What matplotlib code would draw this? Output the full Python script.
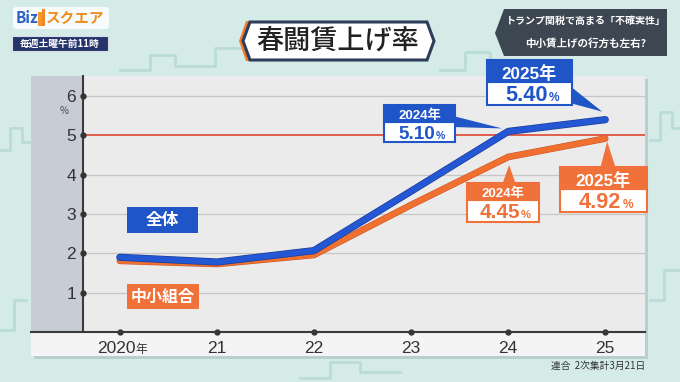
import matplotlib
matplotlib.use("Agg")
import matplotlib.pyplot as plt
import matplotlib.patheffects as pe
from matplotlib.patches import Rectangle, Polygon, FancyBboxPatch

plt.rcParams["font.family"] = ["Noto Sans CJK JP", "DejaVu Sans"]

# data (Rengo spring wage hike rate, %)
years = [2020, 2021, 2022, 2023, 2024, 2025]
year_labels = ["2020", "21", "22", "23", "24", "25"]
overall = [1.90, 1.78, 2.07, 3.58, 5.10, 5.40]
small_unions = [1.81, 1.73, 1.96, 3.23, 4.45, 4.92]
yticks = [1, 2, 3, 4, 5, 6]

W, H = 680, 382
BLUE = "#2457d3"
ORANGE = "#f0712f"
BOX_BLUE = "#1f55c6"
BOX_ORANGE = "#f0723a"
NUMFONT = ["Liberation Sans", "Noto Sans CJK JP", "DejaVu Sans"]

fig = plt.figure(figsize=(W / 100, H / 100), dpi=100)
fig.patch.set_facecolor("#d5ebe8")

# pixel-space layers behind and in front of the chart
bg = fig.add_axes([0, 0, 1, 1], zorder=0)
fg = fig.add_axes([0, 0, 1, 1], zorder=3)
for o in (bg, fg):
    o.set_xlim(0, W)
    o.set_ylim(H, 0)
    o.axis("off")
    o.patch.set_alpha(0)

# faint building outlines in the backdrop
deco = "#b9dcd7"
bg.plot([0, 10, 10, 22, 22, 30], [150, 150, 128, 128, 142, 142], color=deco, lw=2)
bg.plot([0, 14, 14, 26], [330, 330, 300, 300], color=deco, lw=2)
bg.plot([120, 150, 150, 175, 175, 215, 215, 240], [70, 70, 55, 55, 66, 66, 48, 48],
        color=deco, lw=2)
bg.plot([440, 465, 465, 490, 490], [70, 70, 52, 52, 66], color=deco, lw=2)
bg.plot([650, 660, 660, 672, 672, 680], [140, 140, 112, 112, 128, 128], color=deco, lw=2)
bg.plot([650, 664, 664, 680], [300, 300, 270, 270], color=deco, lw=2)
bg.plot([300, 330, 330, 360, 360, 400], [378, 378, 362, 362, 372, 372], color=deco, lw=2)

# chart panel
bg.add_patch(Rectangle((34, 79), 614, 280, fc="#b9cfcc", ec="none"))
bg.add_patch(Rectangle((31, 76), 614, 280, fc="#f4f4f4", ec="none"))
bg.add_patch(Rectangle((31, 76), 52, 256, fc="#c8ccd7", ec="none"))

ax = fig.add_axes([83 / W, 1 - 332 / H, (645 - 83) / W, (332 - 76) / H], zorder=1)
ax.set_facecolor("#ebebeb")
ax.set_xlim(2019.62, 2025.41)
ax.set_ylim(0, 6.51)
for t in yticks:
    if t == 5:
        ax.axhline(t, color="#e0523e", lw=1.3, zorder=1)
    else:
        ax.axhline(t, color="#c6c6c6", lw=0.9, zorder=1)

ax.plot(years, small_unions, color=ORANGE, lw=4.0, solid_capstyle="round",
        solid_joinstyle="round", zorder=3,
        path_effects=[pe.Stroke(linewidth=4.8, foreground="#c9552a"), pe.Normal()])
ax.plot(years, overall, color=BLUE, lw=4.2, solid_capstyle="round",
        solid_joinstyle="round", zorder=4,
        path_effects=[pe.Stroke(linewidth=5.2, foreground="#1a3c98"), pe.Normal()])

for s in ("top", "right", "bottom"):
    ax.spines[s].set_visible(False)
ax.spines["left"].set_color("#3a3a3a")
ax.spines["left"].set_linewidth(1.5)

ax.set_yticks(yticks)
ax.set_yticklabels([str(t) for t in yticks], fontsize=12.5, color="#333333",
                   family=NUMFONT)
ax.tick_params(axis="y", length=0, pad=5)
ax.set_xticks([])
ax.plot([2019.62] * len(yticks), yticks, "o", color="#333333", ms=3.5,
        clip_on=False, zorder=5)
ax.plot(years, [0] * len(years), "o", color="#333333", ms=3.5,
        clip_on=False, zorder=5)
ax.text(-0.025, 5.62, "%", transform=ax.get_yaxis_transform(), ha="right",
        va="center", fontsize=7, color="#444444")

for yr, lab in zip(years, year_labels):
    if yr == 2020:
        ax.annotate(lab, (yr, 0), xytext=(11, -12), textcoords="offset points",
                    ha="right", va="center", fontsize=12.5, color="#333333",
                    family=NUMFONT, annotation_clip=False)
        ax.annotate("年", (yr, 0), xytext=(11.5, -12.5), textcoords="offset points",
                    ha="left", va="center", fontsize=8.5, color="#333333",
                    annotation_clip=False)
    else:
        ax.annotate(lab, (yr, 0), xytext=(0, -12), textcoords="offset points",
                    ha="center", va="center", fontsize=12.5, color="#333333",
                    family=NUMFONT, annotation_clip=False)

# x axis line spanning the whole panel
fg.plot([31, 645], [332, 332], color="#3a3a3a", lw=1.5, zorder=1)


def to_px(x, y):
    d = ax.transData.transform((x, y))
    return fg.transData.inverted().transform(d)


def callout(box, split, color, head, value, base, idx, series, off):
    x0, y0, x1, y1 = box
    tx, ty = to_px(years[idx], series[idx])
    tip = (tx + off[0], ty + off[1])
    fg.add_patch(Polygon([base[0], base[1], tip], closed=True, fc=color, ec="none", zorder=4))
    fg.add_patch(Rectangle((x0, split), x1 - x0, y1 - split, fc="white", ec=color,
                           lw=1.5, zorder=5))
    fg.add_patch(Rectangle((x0, y0), x1 - x0, split - y0, fc=color, ec=color,
                           lw=1.5, zorder=5))
    cx = (x0 + x1) / 2
    fg.text(cx, (y0 + split) / 2 + 1, head, ha="center", va="center_baseline",
            color="white", fontsize=(split - y0) * 0.56, fontweight="bold", zorder=6,
            family=NUMFONT)
    num = value.rstrip("%")
    fs = (y1 - split) * 0.68
    ymid = (split + y1) / 2
    fg.text(cx + fs * 1.15, ymid + fs * 0.5, num, ha="right", va="baseline",
            color=color, fontsize=fs, fontweight="bold", zorder=6, family=NUMFONT)
    fg.text(cx + fs * 1.2, ymid + fs * 0.5, "%", ha="left", va="baseline",
            color=color, fontsize=fs * 0.55, fontweight="bold", zorder=6, family=NUMFONT)


callout((384, 105, 455, 142), 122, BOX_BLUE, "2024年", "5.10%",
        [(453, 116), (453, 127)], 4, overall, (-6, -3))
callout((487, 60, 572, 105), 82, BOX_BLUE, "2025年", "5.40%",
        [(570, 86), (570, 103)], 5, overall, (-3, -8))
callout((467, 183, 539, 222), 200, BOX_ORANGE, "2024年", "4.45%",
        [(502, 185), (516, 185)], 4, small_unions, (1, 8))
callout((560, 167, 647, 212), 189, BOX_ORANGE, "2025年", "4.92%",
        [(600, 169), (616, 169)], 5, small_unions, (2, 3))

# series labels
fg.add_patch(Rectangle((127, 207), 71, 26, fc=BOX_BLUE, ec="none", zorder=5))
fg.text(162.5, 220, "全体", ha="center", va="center", color="white",
        fontsize=12, fontweight="bold", zorder=6)
fg.add_patch(Rectangle((127, 284), 72, 25, fc=BOX_ORANGE, ec="none", zorder=5))
fg.text(163, 296.5, "中小組合", ha="center", va="center", color="white",
        fontsize=11.5, fontweight="bold", zorder=6)

# title plate
fg.add_patch(Polygon([(239, 41), (246, 21), (250, 21), (243, 41), (250, 61), (246, 61)],
                     closed=True, fc="#f07a2e", ec="none", zorder=4))
fg.add_patch(Polygon([(243, 41), (250, 22), (427, 22), (434, 41), (427, 60), (250, 60)],
                     closed=True, fc="white", ec="#2d3d5a", lw=2.2, zorder=5))
fg.text(338, 41, "春闘賃上げ率", ha="center", va="center", fontsize=19.5,
        color="#222222", fontweight="medium", zorder=6)

# programme logo
fg.add_patch(FancyBboxPatch((13, 7), 96, 22, boxstyle="round,pad=0,rounding_size=3",
                            fc="#f7fbfb", ec="none", zorder=5))
fg.text(16, 18, "Biz", ha="left", va="center", fontsize=11, color="#2a62c8",
        fontweight="bold", zorder=6)
fg.add_patch(Rectangle((38, 12), 4, 14, fc="#f39a2a", ec="none", zorder=6))
fg.add_patch(Rectangle((42, 9), 3, 17, fc="#f0862a", ec="none", zorder=6))
fg.text(46, 18, "スクエア", ha="left", va="center", fontsize=10.5, color="#f08a1e",
        fontweight="bold", zorder=6)
fg.add_patch(Rectangle((12, 36), 96, 15, fc="#26346c", ec="#d8dde8", lw=0.8, zorder=5))
fg.text(60, 43.5, "毎週土曜午前11時", ha="center", va="center", fontsize=7,
        color="white", fontweight="bold", zorder=6)

# headline box top right
fg.add_patch(Polygon([(495, 33), (504, 9), (667, 9), (667, 56), (504, 56)], closed=True,
                     fc="#3d4752", ec="none", zorder=5))
fg.text(586, 21, "トランプ関税で高まる「不確実性」", ha="center", va="center",
        fontsize=7.2, color="white", fontweight="bold", zorder=6)
fg.text(586, 44, "中小賃上げの行方も左右?", ha="center", va="center",
        fontsize=7.6, color="white", fontweight="bold", zorder=6)

fg.text(645, 366, "連合  2次集計3月21日", ha="right", va="center", fontsize=7,
        color="#333333", zorder=6)

fig.savefig("out.png", dpi=100, facecolor=fig.get_facecolor())
